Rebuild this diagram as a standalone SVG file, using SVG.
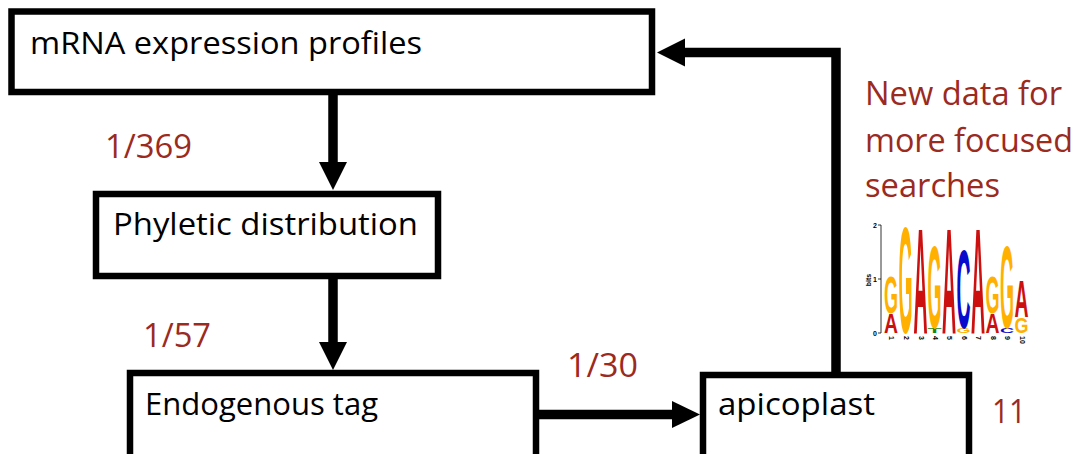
<svg xmlns="http://www.w3.org/2000/svg" width="1079" height="454" viewBox="0 0 1079 454">
<style>
.box{fill:#fff;stroke:#000;stroke-width:6.5}
.lbl{font-family:"Open Sans","Noto Sans",sans-serif;font-size:31px;fill:#000}
.red{font-family:"Open Sans","Noto Sans",sans-serif;font-size:33px;fill:#9B2A1F}
.shaft{stroke:#000;stroke-width:9.5;fill:none}
.head{fill:#000}
.lg{font-family:"Liberation Sans",Arial,sans-serif;font-weight:bold;font-size:10px}
.A{fill:#CC1010}.G{fill:#FFB000}.C{fill:#0A0ACC}.T{fill:#118811}
.ax{font-family:"Liberation Sans",Arial,sans-serif;font-weight:bold;font-size:7px;fill:#000}
</style>
<rect width="1079" height="454" fill="#fff"/>
<g id="connectors">
<line class="shaft" x1="333" y1="92" x2="333" y2="164"/>
<polygon class="head" points="319,162 347,162 333,190"/>
<line class="shaft" x1="333" y1="276" x2="333" y2="344"/>
<polygon class="head" points="319,342 347,342 333,370"/>
<line class="shaft" x1="536" y1="414.5" x2="674" y2="414.5"/>
<polygon class="head" points="672,401 672,428 700,414.5"/>
<polyline class="shaft" points="836,376 836,52.5 683,52.5"/>
<polygon class="head" points="685,38.5 685,66.5 657,52.5"/>
</g>
<g id="node-mrna">
<rect class="box" x="11.5" y="11.5" width="640.5" height="80.5"/>
<text class="lbl" x="30" y="54" textLength="392" lengthAdjust="spacingAndGlyphs">mRNA expression profiles</text>
</g>
<g id="node-phyletic">
<rect class="box" x="96" y="194" width="342" height="82"/>
<text class="lbl" x="113" y="235" textLength="305" lengthAdjust="spacingAndGlyphs">Phyletic distribution</text>
</g>
<g id="node-endogenous">
<rect class="box" x="130" y="373" width="406" height="90"/>
<text class="lbl" x="145" y="415" textLength="233" lengthAdjust="spacingAndGlyphs">Endogenous tag</text>
</g>
<g id="node-apicoplast">
<rect class="box" x="703" y="375" width="266" height="90"/>
<text class="lbl" x="718" y="415" textLength="157" lengthAdjust="spacingAndGlyphs">apicoplast</text>
</g>
<g id="labels">
<text class="red" x="105" y="158" textLength="87" lengthAdjust="spacingAndGlyphs">1/369</text>
<text class="red" x="143" y="347" textLength="68" lengthAdjust="spacingAndGlyphs">1/57</text>
<text class="red" x="567" y="377" textLength="71" lengthAdjust="spacingAndGlyphs">1/30</text>
<text class="red" x="992" y="423" textLength="34" lengthAdjust="spacingAndGlyphs">11</text>
<text class="red" x="865" y="105" textLength="197" lengthAdjust="spacingAndGlyphs">New data for</text>
<text class="red" x="865" y="152" textLength="208" lengthAdjust="spacingAndGlyphs">more focused</text>
<text class="red" x="865" y="197" textLength="135" lengthAdjust="spacingAndGlyphs">searches</text>
</g>
<g id="logo">
<line x1="881" y1="225" x2="881" y2="333" stroke="#000" stroke-width="0.8"/>
<line x1="878" y1="225" x2="881" y2="225" stroke="#000" stroke-width="0.8"/>
<line x1="878" y1="279" x2="881" y2="279" stroke="#000" stroke-width="0.8"/>
<line x1="878" y1="333" x2="881" y2="333" stroke="#000" stroke-width="0.8"/>
<text class="ax" x="877" y="228" text-anchor="end">2</text>
<text class="ax" x="877" y="282" text-anchor="end">1</text>
<text class="ax" x="877" y="336" text-anchor="end">0</text>
<text class="ax" transform="translate(871,280) rotate(-90)" text-anchor="middle">bits</text>
<text class="lg A" text-anchor="middle" transform="translate(891,333) scale(1.94,2.79)">A</text>
<text class="lg G" text-anchor="middle" transform="translate(891,313) scale(1.8,5.2)">G</text>
<text class="lg G" text-anchor="middle" transform="translate(905.5,333) scale(1.8,15.1)">G</text>
<text class="lg A" text-anchor="middle" transform="translate(920.5,333) scale(1.94,15.1)">A</text>
<text class="lg T" text-anchor="middle" transform="translate(934.5,333) scale(2.3,0.7)">T</text>
<text class="lg G" text-anchor="middle" transform="translate(934.5,328) scale(1.8,11.6)">G</text>
<text class="lg A" text-anchor="middle" transform="translate(949,333) scale(1.94,15.1)">A</text>
<text class="lg G" text-anchor="middle" transform="translate(963.5,333) scale(1.8,0.7)">G</text>
<text class="lg C" text-anchor="middle" transform="translate(963.5,328) scale(1.94,11.2)">C</text>
<text class="lg A" text-anchor="middle" transform="translate(978,333) scale(1.94,15.1)">A</text>
<text class="lg A" text-anchor="middle" transform="translate(992.5,333) scale(1.94,2.79)">A</text>
<text class="lg G" text-anchor="middle" transform="translate(992.5,313) scale(1.8,5.2)">G</text>
<text class="lg C" text-anchor="middle" transform="translate(1007,333) scale(1.94,0.7)">C</text>
<text class="lg G" text-anchor="middle" transform="translate(1007,328) scale(1.8,11.6)">G</text>
<text class="lg G" text-anchor="middle" transform="translate(1021.5,333) scale(1.8,2.2)">G</text>
<text class="lg A" text-anchor="middle" transform="translate(1021.5,317) scale(1.94,5.2)">A</text>
<text class="ax" transform="translate(889,336) rotate(90)">1</text>
<text class="ax" transform="translate(903.5,336) rotate(90)">2</text>
<text class="ax" transform="translate(918.5,336) rotate(90)">3</text>
<text class="ax" transform="translate(932.5,336) rotate(90)">4</text>
<text class="ax" transform="translate(947,336) rotate(90)">5</text>
<text class="ax" transform="translate(961.5,336) rotate(90)">6</text>
<text class="ax" transform="translate(976,336) rotate(90)">7</text>
<text class="ax" transform="translate(990.5,336) rotate(90)">8</text>
<text class="ax" transform="translate(1005,336) rotate(90)">9</text>
<text class="ax" transform="translate(1019.5,336) rotate(90)">10</text>
</g>
</svg>
